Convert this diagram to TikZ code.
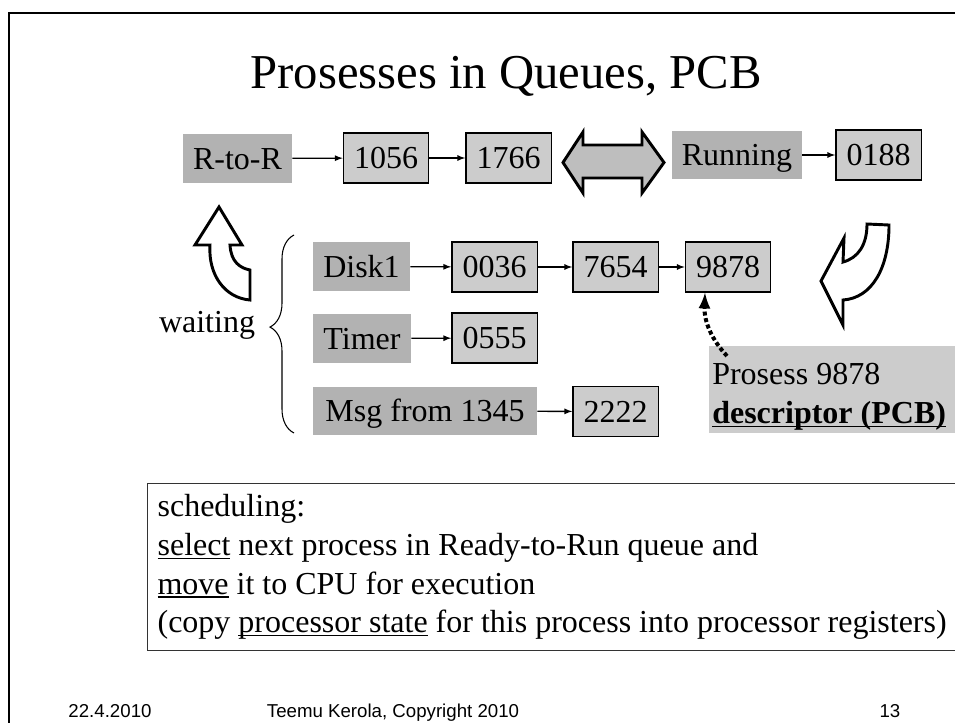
\documentclass[tikz,border=0pt]{standalone}
\usepackage{fontspec}
\setmainfont{Liberation Serif}
\newfontfamily\footfont{Liberation Sans}
\usepackage{tikz}
\usetikzlibrary{
  arrows,
  % for the brace
  decorations.pathreplacing
}
\tikzset{>=latex}
\newsavebox{\qulbox}
\newcommand{\qul}[1]{\leavevmode\sbox{\qulbox}{#1}\rlap{\rule[-2.6pt]{\wd\qulbox}{0.9pt}}\usebox{\qulbox}}
\definecolor{qdark}{HTML}{B2B2B2}
\definecolor{qlight}{HTML}{CCCCCC}
\definecolor{qarrow}{HTML}{BEBEBE}
\tikzset{
  slidefont/.style={font=\fontsize{24}{29}\selectfont},
  qhead/.style={slidefont, fill=qdark, inner sep=0pt, text height=15.9pt, text depth=0pt},
  pcbbox/.style={slidefont, draw=black, line width=1pt, fill=qlight, inner sep=0pt,
    minimum width=64pt, minimum height=37.5pt, text height=15.9pt, text depth=0pt},
  link/.style={->, line width=1pt},
  bigarrow/.style={draw=black, line width=2.2pt, line join=miter},
}

\begin{document}
\begin{tikzpicture}[x=0.75pt, y=-0.75pt]
  \useasboundingbox (0,0) rectangle (955,722);
  % slide frame
  \draw[line width=2pt] (9,740) -- (9,13) -- (970,13);
  \node[font=\fontsize{36.5}{44}\selectfont, anchor=base] (title) at (506,88) {Prosesses in Queues, PCB};

  % ready-to-run and running
  \node[qhead, minimum width=81.75pt, minimum height=36.75pt] (rtor) at (237.5,158.5) {R-to-R};
  \node[pcbbox] (n1056) at (386,158) {1056};
  \node[pcbbox] (n1766) at (508.5,158) {1766};
  \node[qhead, minimum width=97.5pt, minimum height=36pt] (running) at (737,155) {Running};
  \node[pcbbox] (n0188) at (878.5,155) {0188};
  \draw[link] (rtor) -- (n1056);
  \draw[link] (n1056) -- (n1766);
  \draw[link] (running) -- (n0188);
  \draw[bigarrow, fill=qarrow] (563,162.5) -- (583,132) -- (583,145) -- (642,145) -- (642,132)
    -- (664,162.5) -- (642,193) -- (642,178) -- (583,178) -- (583,193) -- cycle;

  % waiting queues
  \node[qhead, minimum width=72.75pt, minimum height=36.75pt] (disk) at (361.5,266.5) {Disk1};
  \node[pcbbox] (n0036) at (494.5,267) {0036};
  \node[pcbbox] (n7654) at (615.5,267) {7654};
  \node[pcbbox] (n9878) at (728,267) {9878};
  \node[qhead, minimum width=73.5pt, minimum height=36.75pt] (timer) at (362,338.5) {Timer};
  \node[pcbbox] (n0555) at (494.5,338) {0555};
  \node[qhead, minimum width=168pt, minimum height=36pt] (msg) at (425,411) {Msg from 1345};
  \node[pcbbox] (n2222) at (615.5,411.5) {2222};
  \draw[link] (disk) -- (n0036);
  \draw[link] (n0036) -- (n7654);
  \draw[link] (n7654) -- (n9878);
  \draw[link] (timer) -- (n0555);
  \draw[link] (msg) -- (n2222);

  \draw[decorate, decoration={brace, amplitude=18pt, aspect=0.535}, line width=0.8pt] (294,433) -- (294,235);
  \node[slidefont, anchor=base] (waiting) at (207,332) {waiting};

  % turning arrows
  \draw[bigarrow, fill=white] (250,270) -- (250,300) .. controls (225,298) and (208,275) .. (210,245)
    -- (195,245) -- (219,207) -- (242,245) -- (230,245) .. controls (231,262) and (240,268) .. (250,270) -- cycle;
  \draw[bigarrow, fill=white] (867,224) -- (889,225) .. controls (889,268) and (872,298) .. (843,300)
    -- (843,325) -- (821,281) -- (844,238) -- (843,262) .. controls (858,258) and (867,245) .. (867,224) -- cycle;

  % descriptor
  \node[slidefont, fill=qlight, anchor=north west, minimum height=65.25pt, inner xsep=2.25pt, inner ysep=0pt,
    text width=185pt, align=left] (pcb) at (709,346)
    {\spaceskip=0pt\rule{0pt}{26.5pt}Prosess 9878\\ \textbf{\qul{descriptor (PCB)}}};
  \coordinate (pcbtail) at (727,356);
  \draw[->, line width=3pt, dotted] (pcbtail) .. controls (712,340) and (704,322) .. ([xshift=-17.25pt]n9878.south);

  \node[slidefont, draw=black!80, line width=0.9pt, anchor=north west, inner xsep=7.5pt, inner ysep=0pt,
    minimum height=125.25pt, text width=640pt, align=left] (sched) at (147,483)
    {\spaceskip=0pt scheduling:\\
     \qul{select} next process in Ready-to-Run queue and\\
     \qul{move} it to CPU for execution\\
     (copy \qul{processor state} for this process into processor registers)};

  % footer
  \node[font=\footfont\fontsize{14}{16}\selectfont, anchor=base] (date) at (110,717) {22.4.2010};
  \node[font=\footfont\fontsize{14}{16}\selectfont, anchor=base] (owner) at (393,717) {Teemu Kerola, Copyright 2010};
  \node[font=\footfont\fontsize{14}{16}\selectfont, anchor=base east] (page) at (905,717) {13};
\end{tikzpicture}
\end{document}
